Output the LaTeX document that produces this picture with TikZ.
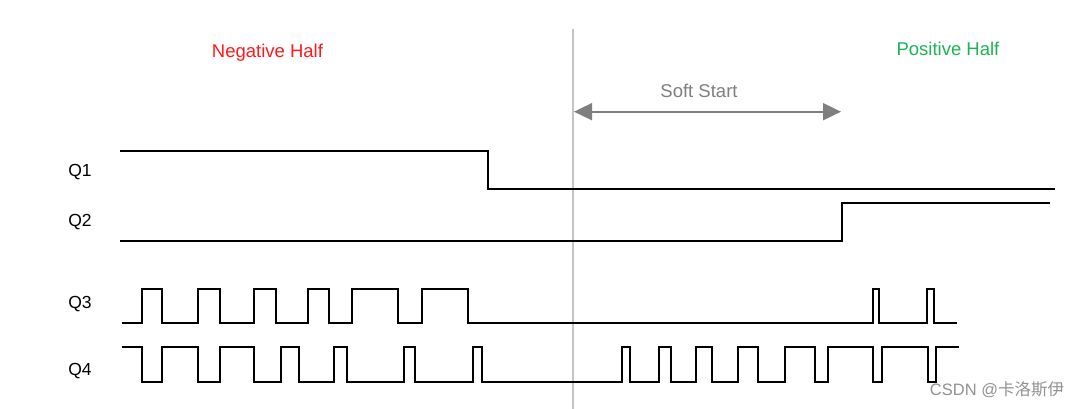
\documentclass[tikz,border=0pt]{standalone}
\usepackage{fontspec}
\setmainfont{Liberation Sans}
\newfontfamily\cjk{Noto Sans CJK SC}
\usetikzlibrary{arrows.meta}
\definecolor{negred}{HTML}{FF1A1A}
\definecolor{posgreen}{HTML}{1DB354}
\definecolor{softgray}{HTML}{7F7F7F}
\definecolor{divgray}{HTML}{C4C4C4}
\tikzset{
  wave/.style={line width=1.8pt, black, line join=miter},
  lbl/.style={inner sep=0pt, font=\fontsize{17.5}{20}\selectfont},
  title/.style={inner sep=0pt, font=\fontsize{18.5}{21}\selectfont},
}
\begin{document}
\begin{tikzpicture}[x=1pt,y=-1pt]
\useasboundingbox (0,0) rectangle (1079,409);
\fill[white] (0,0) rectangle (1079,409);
% divider
\coordinate (divtop) at (572.7,29);
\coordinate (divbot) at (572.7,409);
\draw[divgray, line width=2pt] (divtop) -- (divbot);
% titles
\node[title, text=negred] (neg) at (267.5,53) {Negative Half};
\node[title, text=posgreen] (pos) at (948,49) {Positive Half};
\node[title, text=softgray] (soft) at (699,91) {Soft Start};
% soft start arrow
\coordinate (sa) at (574,111.7);
\coordinate (sb) at (841,111.7);
\draw[softgray, line width=1.8pt, {Triangle[length=18pt,width=17pt]}-{Triangle[length=18pt,width=17pt]}] (sa) -- (sb);
% labels
\node[lbl] (q1) at (80,172.5) {Q1};
\node[lbl] (q2) at (80,222.5) {Q2};
\node[lbl] (q3) at (80,304) {Q3};
\node[lbl] (q4) at (80,371.5) {Q4};
% Q1
\draw[wave] (120,151) -- (488.3,151) -- (488.3,189.3) -- (1055,189.3);
% Q2
\draw[wave] (120,240.8) -- (842.3,240.8) -- (842.3,202.7) -- (1050,202.7);
% Q3
\def\lo{323.3}\def\hi{289}
\draw[wave] (122.3,\lo)
  -- (141.7,\lo) -- (141.7,\hi) -- (162.3,\hi) -- (162.3,\lo)
  -- (198.3,\lo) -- (198.3,\hi) -- (220,\hi) -- (220,\lo)
  -- (254,\lo) -- (254,\hi) -- (275.7,\hi) -- (275.7,\lo)
  -- (308.3,\lo) -- (308.3,\hi) -- (329.3,\hi) -- (329.3,\lo)
  -- (352.3,\lo) -- (352.3,\hi) -- (397.7,\hi) -- (397.7,\lo)
  -- (421.7,\lo) -- (421.7,\hi) -- (468.3,\hi) -- (468.3,\lo)
  -- (873.3,\lo) -- (873.3,\hi) -- (879.3,\hi) -- (879.3,\lo)
  -- (926.7,\lo) -- (926.7,\hi) -- (934.3,\hi) -- (934.3,\lo)
  -- (956.7,\lo);
% Q4
\def\lob{382.3}\def\hib{346.7}
\draw[wave] (122.3,\hib)
  -- (141.7,\hib) -- (141.7,\lob) -- (162.3,\lob) -- (162.3,\hib)
  -- (198.3,\hib) -- (198.3,\lob) -- (220,\lob) -- (220,\hib)
  -- (254,\hib) -- (254,\lob) -- (280.7,\lob) -- (280.7,\hib)
  -- (299,\hib) -- (299,\lob) -- (334,\lob) -- (334,\hib)
  -- (347.3,\hib) -- (347.3,\lob) -- (404.3,\lob) -- (404.3,\hib)
  -- (415,\hib) -- (415,\lob) -- (473.3,\lob) -- (473.3,\hib)
  -- (482.3,\hib) -- (482.3,\lob) -- (621.7,\lob) -- (621.7,\hib)
  -- (630,\hib) -- (630,\lob) -- (659,\lob) -- (659,\hib)
  -- (670.7,\hib) -- (670.7,\lob) -- (695.7,\lob) -- (695.7,\hib)
  -- (712.3,\hib) -- (712.3,\lob) -- (737.7,\lob) -- (737.7,\hib)
  -- (758.3,\hib) -- (758.3,\lob) -- (785,\lob) -- (785,\hib)
  -- (815,\hib) -- (815,\lob) -- (827.7,\lob) -- (827.7,\hib)
  -- (873.3,\hib) -- (873.3,\lob) -- (881.7,\lob) -- (881.7,\hib)
  -- (927.7,\hib) -- (927.7,\lob) -- (935.7,\lob) -- (935.7,\hib)
  -- (959,\hib);
% watermark
\node[inner sep=0pt, text=softgray!85, font=\fontsize{16.5}{19}\selectfont] (wm) at (997,390) {CSDN @{\cjk 卡洛斯伊}};
\end{tikzpicture}
\end{document}
